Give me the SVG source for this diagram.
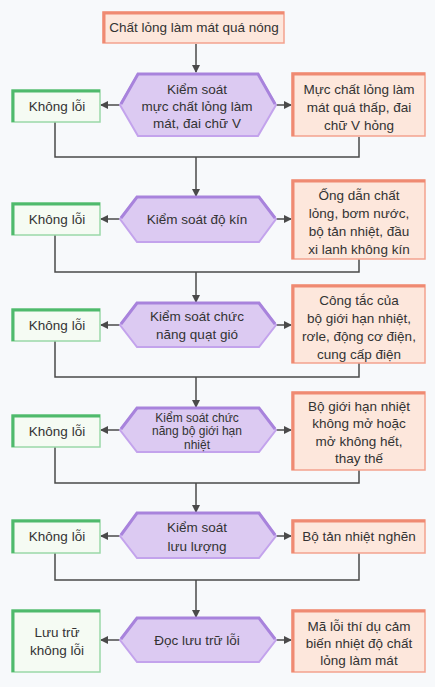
<svg xmlns="http://www.w3.org/2000/svg" width="435" height="687" viewBox="0 0 435 687">
<defs>
<marker id="ah" markerWidth="8" markerHeight="8" refX="7" refY="4" orient="auto" markerUnits="userSpaceOnUse">
<path d="M0,0 L8,4 L0,8 z" fill="#4a4a4a"/>
</marker>
<style>
.t{font-family:"Liberation Sans",Arial,sans-serif;font-size:13.5px;fill:#333;text-anchor:middle}
.s{font-size:12px}
.hex{fill:#dccaf2;stroke:#c3a3ec;stroke-width:2}
.htop{fill:none;stroke:#a883dc;stroke-width:3}
.ob{fill:#fde7dc;stroke:#f3a28f;stroke-width:1.5}
.obt{fill:none;stroke:#ef8a72;stroke-width:3}
.gb{fill:#f5fbf3;stroke:#9ad8a8;stroke-width:1.5}
.gbt{fill:none;stroke:#4fba6c;stroke-width:3}
.c{fill:none;stroke:#4a4a4a;stroke-width:1.5}
</style>
</defs>
<rect width="435" height="687" fill="#f7f9fb"/>

<g id="connectors">
<line class="c" x1="196" y1="44" x2="196" y2="72" marker-end="url(#ah)"/>
<line class="c" x1="120" y1="105" x2="101" y2="105" marker-end="url(#ah)"/>
<line class="c" x1="276" y1="105" x2="291" y2="105" marker-end="url(#ah)"/>
<polyline class="c" points="55,122 55,157 359,157 359,137"/>
<line class="c" x1="196" y1="157" x2="196" y2="196" marker-end="url(#ah)"/>

<line class="c" x1="120" y1="219" x2="101" y2="219" marker-end="url(#ah)"/>
<line class="c" x1="276" y1="219" x2="291" y2="219" marker-end="url(#ah)"/>
<polyline class="c" points="55,235 55,272 359,272 359,259"/>
<line class="c" x1="196" y1="272" x2="196" y2="302" marker-end="url(#ah)"/>

<line class="c" x1="120" y1="325" x2="101" y2="325" marker-end="url(#ah)"/>
<line class="c" x1="276" y1="325" x2="291" y2="325" marker-end="url(#ah)"/>
<polyline class="c" points="55,341 55,377 359,377 359,363"/>
<line class="c" x1="196" y1="377" x2="196" y2="407" marker-end="url(#ah)"/>

<line class="c" x1="120" y1="430" x2="101" y2="430" marker-end="url(#ah)"/>
<line class="c" x1="276" y1="430" x2="291" y2="430" marker-end="url(#ah)"/>
<polyline class="c" points="55,447 55,483 359,483 359,470"/>
<line class="c" x1="196" y1="483" x2="196" y2="512" marker-end="url(#ah)"/>

<line class="c" x1="120" y1="536" x2="101" y2="536" marker-end="url(#ah)"/>
<line class="c" x1="276" y1="536" x2="291" y2="536" marker-end="url(#ah)"/>
<polyline class="c" points="55,553 55,580 359,580 359,553"/>
<line class="c" x1="196" y1="580" x2="196" y2="617" marker-end="url(#ah)"/>

<line class="c" x1="120" y1="640" x2="101" y2="640" marker-end="url(#ah)"/>
<line class="c" x1="276" y1="640" x2="291" y2="640" marker-end="url(#ah)"/>
</g>

<g id="start">
<rect class="ob" x="103" y="12" width="181" height="31"/>
<polyline class="obt" points="104,43 104,13 284,13"/>
<text class="t" x="194" y="32">Chất lỏng làm mát quá nóng</text>
</g>

<g id="check1">
<polygon class="hex" points="120,105 138,74 258,74 276,105 258,136 138,136"/>
<polyline class="htop" points="121,104 138,74 258,74 275,104"/>
<text class="t" x="197" y="94">Kiểm soát</text>
<text class="t" x="197" y="111">mực chất lỏng làm</text>
<text class="t" x="197" y="128">mát, đai chữ V</text>
</g>
<g id="ok1">
<rect class="gb" x="12" y="90" width="88" height="32"/>
<polyline class="gbt" points="13,122 13,91 100,91"/>
<text class="t" x="57" y="111">Không lỗi</text>
</g>
<g id="fault1">
<rect class="ob" x="292" y="73" width="133" height="63"/>
<polyline class="obt" points="293,136 293,74 425,74"/>
<text class="t" x="359" y="94">Mực chất lỏng làm</text>
<text class="t" x="359" y="112">mát quá thấp, đai</text>
<text class="t" x="359" y="130">chữ V hỏng</text>
</g>

<g id="check2">
<polygon class="hex" points="120,219 137,197 259,197 276,219 259,242 137,242"/>
<polyline class="htop" points="121,218 137,197 259,197 275,218"/>
<text class="t" x="197" y="224">Kiểm soát độ kín</text>
</g>
<g id="ok2">
<rect class="gb" x="12" y="203" width="88" height="32"/>
<polyline class="gbt" points="13,235 13,204 100,204"/>
<text class="t" x="57" y="224">Không lỗi</text>
</g>
<g id="fault2">
<rect class="ob" x="292" y="180" width="133" height="79"/>
<polyline class="obt" points="293,259 293,181 425,181"/>
<text class="t" x="359" y="200">Ống dẫn chất</text>
<text class="t" x="359" y="218">lỏng, bơm nước,</text>
<text class="t" x="359" y="236">bộ tản nhiệt, đầu</text>
<text class="t" x="359" y="254">xi lanh không kín</text>
</g>

<g id="check3">
<polygon class="hex" points="120,325 137,303 259,303 276,325 259,347 137,347"/>
<polyline class="htop" points="121,324 137,303 259,303 275,324"/>
<text class="t" x="197" y="321">Kiểm soát chức</text>
<text class="t" x="197" y="339">năng quạt gió</text>
</g>
<g id="ok3">
<rect class="gb" x="12" y="309" width="88" height="32"/>
<polyline class="gbt" points="13,341 13,310 100,310"/>
<text class="t" x="57" y="330">Không lỗi</text>
</g>
<g id="fault3">
<rect class="ob" x="292" y="285" width="133" height="78"/>
<polyline class="obt" points="293,363 293,286 425,286"/>
<text class="t" x="359" y="305">Công tắc của</text>
<text class="t" x="359" y="323">bộ giới hạn nhiệt,</text>
<text class="t" x="359" y="341">rơle, động cơ điện,</text>
<text class="t" x="359" y="359">cung cấp điện</text>
</g>

<g id="check4">
<polygon class="hex" points="120,430 137,408 259,408 276,430 259,452 137,452"/>
<polyline class="htop" points="121,429 137,408 259,408 275,429"/>
<text class="t s" x="197" y="421.5">Kiểm soát chức</text>
<text class="t s" x="197" y="435">năng bộ giới hạn</text>
<text class="t s" x="197" y="448.5">nhiệt</text>
</g>
<g id="ok4">
<rect class="gb" x="12" y="415" width="88" height="32"/>
<polyline class="gbt" points="13,447 13,416 100,416"/>
<text class="t" x="57" y="436">Không lỗi</text>
</g>
<g id="fault4">
<rect class="ob" x="292" y="392" width="133" height="78"/>
<polyline class="obt" points="293,470 293,393 425,393"/>
<text class="t" x="359" y="411">Bộ giới hạn nhiệt</text>
<text class="t" x="359" y="428">không mở hoặc</text>
<text class="t" x="359" y="446">mở không hết,</text>
<text class="t" x="359" y="463">thay thế</text>
</g>

<g id="check5">
<polygon class="hex" points="120,536 137,513 259,513 276,536 259,558 137,558"/>
<polyline class="htop" points="121,535 137,513 259,513 275,535"/>
<text class="t" x="197" y="532">Kiểm soát</text>
<text class="t" x="197" y="551">lưu lượng</text>
</g>
<g id="ok5">
<rect class="gb" x="12" y="520" width="88" height="33"/>
<polyline class="gbt" points="13,553 13,521 100,521"/>
<text class="t" x="57" y="541">Không lỗi</text>
</g>
<g id="fault5">
<rect class="ob" x="292" y="520" width="133" height="33"/>
<polyline class="obt" points="293,553 293,521 425,521"/>
<text class="t" x="359" y="541">Bộ tản nhiệt nghẽn</text>
</g>

<g id="check6">
<polygon class="hex" points="120,640 137,618 259,618 276,640 259,662 137,662"/>
<polyline class="htop" points="121,639 137,618 259,618 275,639"/>
<text class="t" x="197" y="645">Đọc lưu trữ lỗi</text>
</g>
<g id="ok6">
<rect class="gb" x="12" y="610" width="88" height="62"/>
<polyline class="gbt" points="13,672 13,611 100,611"/>
<text class="t" x="57" y="637">Lưu trữ</text>
<text class="t" x="57" y="655">không lỗi</text>
</g>
<g id="fault6">
<rect class="ob" x="292" y="610" width="133" height="62"/>
<polyline class="obt" points="293,672 293,611 425,611"/>
<text class="t" x="359" y="631">Mã lỗi thí dụ cảm</text>
<text class="t" x="359" y="648">biến nhiệt độ chất</text>
<text class="t" x="359" y="665">lỏng làm mát</text>
</g>
</svg>
